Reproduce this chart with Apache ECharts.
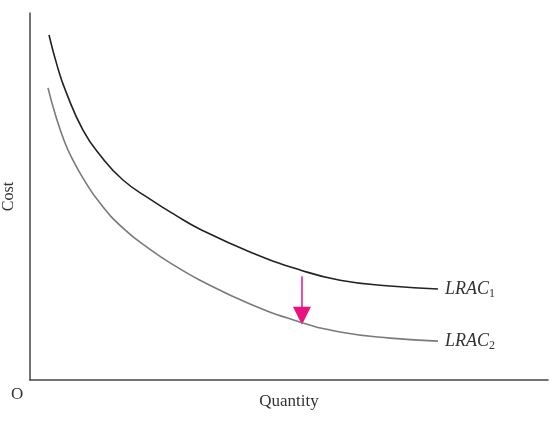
<!DOCTYPE html>
<html>
<head>
<meta charset="utf-8">
<script src="https://cdn.jsdelivr.net/npm/echarts@6/dist/echarts.min.js"></script>
<style>html,body{margin:0;padding:0;background:#fff}#c{width:558px;height:422px}</style>
</head>
<body>
<div id="c"></div>
<script>
// Quantity (x) and cost (y) on a 0–100 schematic scale
var lrac1Q = [3.67, 5.21, 6.95, 10.23, 13.51, 17.95, 23.17, 27.99, 32.82, 42.47, 52.12, 59.85, 69.5, 78.76];
var lrac1C = [94.0, 85.8, 78.5, 68.1, 61.3, 54.5, 49.3, 45.0, 41.1, 34.9, 30.0, 27.2, 25.6, 24.8];
var lrac2Q = [3.47, 5.02, 6.76, 8.30, 10.23, 13.51, 17.95, 23.17, 27.99, 32.82, 42.47, 52.12, 59.85, 69.5, 78.76];
var lrac2C = [79.6, 71.7, 64.6, 59.9, 55.0, 48.2, 41.4, 35.6, 31.1, 27.2, 20.7, 15.8, 13.1, 11.4, 10.6];
var arrowQ = [52.5, 52.5];
var arrowC = [28.3, 17.5];
var seriesNames = ['LRAC1', 'LRAC2'];
var axisNames = {x: 'Quantity', y: 'Cost', origin: 'O'};

function pairs(a, b) { return a.map(function (v, i) { return [v, b[i]]; }); }

var chart = echarts.init(document.getElementById('c'), null, {renderer: 'canvas'});
var serif = '"Liberation Serif", "DejaVu Serif", serif';
function endLbl(sub) {
  return {
    show: true,
    distance: 7,
    formatter: '{a|LRAC}{b|' + sub + '}',
    rich: {
      a: {fontFamily: serif, fontStyle: 'italic', fontSize: 18, color: '#333'},
      b: {fontFamily: serif, fontSize: 12, color: '#333', padding: [9, 0, 0, 0]}
    }
  };
}
chart.setOption({
  animation: false,
  grid: {left: 30, right: 10, top: 13, bottom: 42, containLabel: false, outerBoundsMode: 'none'},
  xAxis: {
    type: 'value', min: 0, max: 100,
    name: axisNames.x, nameLocation: 'middle', nameGap: 13,
    nameTextStyle: {fontFamily: serif, fontSize: 17, color: '#333'},
    axisLine: {show: true, lineStyle: {color: '#444', width: 1.5}},
    axisTick: {show: false}, axisLabel: {show: false}, splitLine: {show: false}
  },
  yAxis: {
    type: 'value', min: 0, max: 100,
    name: axisNames.y, nameLocation: 'middle', nameGap: 13, nameRotate: 90,
    nameTextStyle: {fontFamily: serif, fontSize: 16, color: '#333'},
    axisLine: {show: true, lineStyle: {color: '#444', width: 1.5}},
    axisTick: {show: false}, axisLabel: {show: false}, splitLine: {show: false}
  },
  graphic: [{
    type: 'text', left: 11, top: 386,
    style: {text: axisNames.origin, font: '17px ' + serif, fill: '#333'}
  }],
  series: [
    {
      name: seriesNames[0], type: 'line', smooth: 0.5, showSymbol: false,
      data: pairs(lrac1Q, lrac1C),
      lineStyle: {color: '#222', width: 1.6},
      endLabel: endLbl('1')
    },
    {
      name: seriesNames[1], type: 'line', smooth: 0.5, showSymbol: false,
      data: pairs(lrac2Q, lrac2C),
      lineStyle: {color: '#7a7a7a', width: 1.6},
      endLabel: endLbl('2')
    },
    {
      type: 'lines', coordinateSystem: 'cartesian2d', silent: true,
      symbol: ['none', 'triangle'], symbolSize: [12, 18],
      lineStyle: {color: '#e8137f', width: 1.5, opacity: 1},
      itemStyle: {color: '#e8137f'},
      data: [{coords: pairs(arrowQ, arrowC)}]
    }
  ]
});
</script>
</body>
</html>
